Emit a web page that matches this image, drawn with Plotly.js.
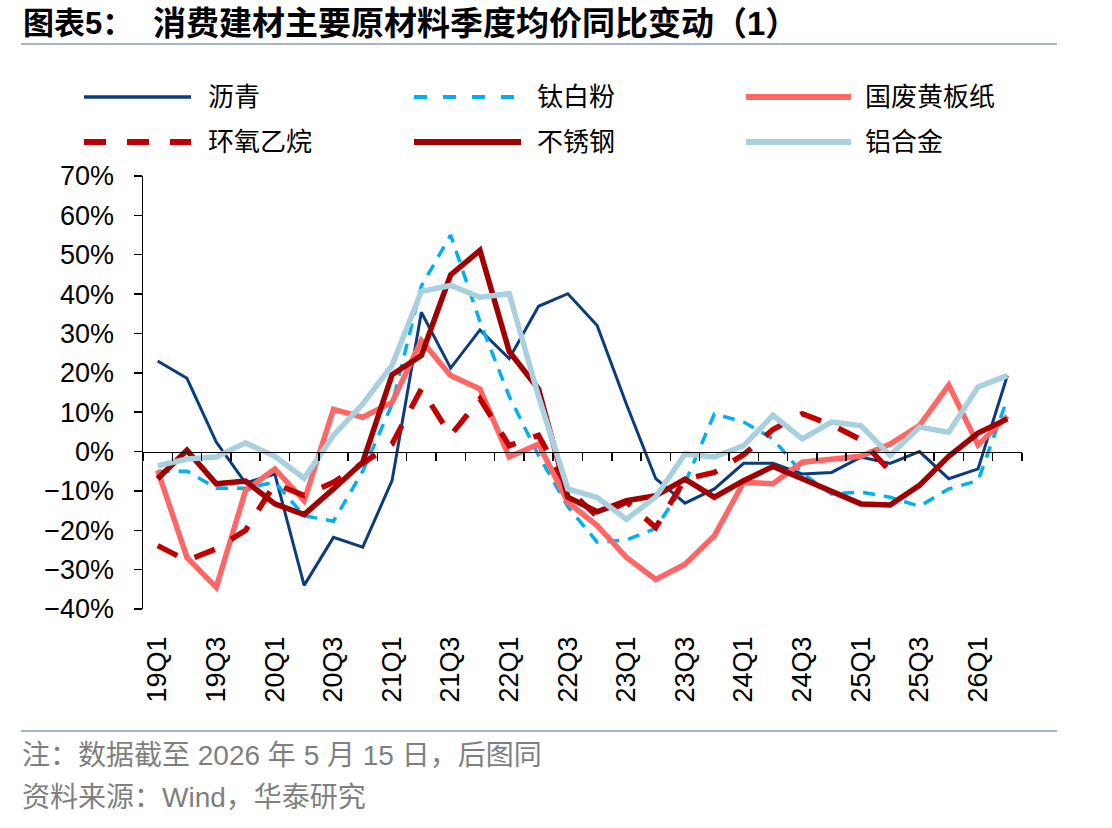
<!DOCTYPE html>
<html>
<head>
<meta charset="utf-8">
<script src="https://cdn.plot.ly/plotly-3.0.1.min.js"></script>
<style>
  html, body { margin: 0; padding: 0; background: #ffffff; }
  #chart { width: 1112px; height: 828px; }
</style>
</head>
<body>
<div id="chart"></div>
<script>
// Quarters on the category axis
const quarters = ['19Q1','19Q2','19Q3','19Q4','20Q1','20Q2','20Q3','20Q4',
                  '21Q1','21Q2','21Q3','21Q4','22Q1','22Q2','22Q3','22Q4',
                  '23Q1','23Q2','23Q3','23Q4','24Q1','24Q2','24Q3','24Q4',
                  '25Q1','25Q2','25Q3','25Q4','26Q1','26Q2'];
// Quarters that carry a tick label
const tickQuarters = ['19Q1','19Q3','20Q1','20Q3','21Q1','21Q3','22Q1','22Q3',
                      '23Q1','23Q3','24Q1','24Q3','25Q1','25Q3','26Q1'];

// Year-on-year change of quarterly average price, %
const asphalt   = [23.0, 18.6, 2.4, -8.0, -5.7, -34.0, -21.8, -24.3, -7.4, 35.4,
                   21.2, 30.9, 23.6, 36.9, 40.1, 32.0, 12.0, -6.9, -13.1, -9.5,
                   -3.0, -3.0, -5.7, -5.3, -1.4, -3.0, 0.0, -6.9, -4.4, 19.3];
const titanium  = [-5.0, -5.0, -9.3, -9.3, -7.8, -16.3, -17.7, -5.0, 12.0, 42.0,
                   55.0, 33.0, 14.0, -1.0, -14.0, -23.0, -22.5, -19.5, -8.0, 9.6,
                   7.5, 3.2, -5.5, -10.8, -10.3, -11.6, -13.9, -9.5, -7.4, 13.4];
const wastePaper = [-4.8, -26.9, -34.5, -9.9, -4.4, -12.5, 10.7, 8.7, 12.5, 28.2,
                    19.3, 15.9, -1.4, 1.9, -12.9, -18.8, -26.9, -32.5, -28.6, -21.4,
                    -7.8, -8.2, -2.7, -1.9, -1.2, 1.9, 6.6, 16.9, 1.7, 9.0];
const epoxy     = [-23.9, -27.7, -24.7, -20.0, -8.2, -11.2, -7.8, -3.1, 1.9, 15.9,
                   4.1, 13.4, 1.5, 4.1, -9.5, -16.5, -12.8, -19.3, -7.0, -5.3,
                   -0.8, 5.6, 9.6, 6.8, 3.0, -5.0, null, null, null, null];
const stainless = [-6.9, 0.3, -8.2, -7.5, -13.3, -16.0, -9.5, -2.7, 19.5, 24.4,
                   44.9, 51.1, 25.4, 15.9, -11.6, -15.3, -12.5, -11.2, -7.0, -11.6,
                   -7.4, -3.8, -6.9, -10.2, -13.3, -13.6, -8.6, -1.2, 4.7, 8.3];
const aluminium = [-3.6, -1.9, -1.4, 2.2, -1.2, -6.8, 4.1, 12.1, 21.9, 40.7,
                   42.2, 39.2, 40.1, 14.0, -9.5, -11.7, -17.2, -11.5, -0.6, -1.4,
                   1.5, 9.2, 3.2, 7.5, 6.6, -1.0, 6.2, 4.9, 16.4, 19.3];

const seriesNames = ['沥青', '钛白粉', '国废黄板纸', '环氧乙烷', '不锈钢', '铝合金'];
const seriesValues = [asphalt, titanium, wastePaper, epoxy, stainless, aluminium];

// Line styles, in drawing order
const styles = [
  { color: '#0B3C7C', width: 3,   dash: 'solid',     keyDash: 'solid' },
  { color: '#00B0F0', width: 3.5, dash: '12px,9px',  keyDash: '13px,16px' },
  { color: '#FF6666', width: 5.5, dash: 'solid',     keyDash: 'solid' },
  { color: '#C00000', width: 5.5, dash: '22px,19px', keyDash: '22px,21px' },
  { color: '#A00000', width: 5.5, dash: 'solid',     keyDash: 'solid' },
  { color: '#A9D0DF', width: 5.5, dash: 'solid',     keyDash: 'solid' }
];

// Page geometry (pixels)
const W = 1112, H = 828;
const M = { l: 143, r: 90, t: 176, b: 219 };
const PW = W - M.l - M.r, PH = H - M.t - M.b;
const px = x => (x - M.l) / PW;          // pixel x -> paper x
const py = y => (M.t + PH - y) / PH;     // pixel y -> paper y

const yMin = -40, yMax = 70;
const latin = 'Liberation Sans, Arial, sans-serif';
const cjk = 'Liberation Sans, Noto Sans CJK SC, sans-serif';

const traces = seriesValues.map((vals, i) => ({
  type: 'scatter',
  mode: 'lines',
  name: seriesNames[i],
  x: quarters,
  y: vals,
  xaxis: 'x',
  yaxis: 'y',
  connectgaps: false,
  line: { color: styles[i].color, width: styles[i].width, dash: styles[i].dash },
  hoverinfo: 'skip',
  showlegend: false
}));

// Empty trace that attaches the labelling axis to the plot
traces.push({
  type: 'scatter', mode: 'lines', x: [], y: [],
  xaxis: 'x2', yaxis: 'y', hoverinfo: 'skip', showlegend: false
});

// Legend keys: three columns, two rows
const keyCols = [
  { x0: 84, x1: 191, tx: 206 },
  { x0: 414, x1: 521, tx: 535 },
  { x0: 746, x1: 851, tx: 863 }
];
const keyRows = [97, 142];

const shapes = [];
const annotations = [];

seriesNames.forEach((name, i) => {
  const c = keyCols[i % 3], r = keyRows[Math.floor(i / 3)];
  shapes.push({
    type: 'line', xref: 'paper', yref: 'paper',
    x0: px(c.x0), x1: px(c.x1), y0: py(r), y1: py(r),
    line: { color: styles[i].color, width: styles[i].width + 0.5, dash: styles[i].keyDash }
  });
  annotations.push({
    xref: 'paper', yref: 'paper', x: px(c.tx), y: py(r),
    xanchor: 'left', yanchor: 'middle', showarrow: false,
    text: name, font: { family: cjk, size: 26, color: '#000000' }
  });
});

// Rules under the title and above the notes
[44, 731].forEach(y => shapes.push({
  type: 'line', xref: 'paper', yref: 'paper',
  x0: px(21), x1: px(1057), y0: py(y), y1: py(y),
  line: { color: '#A3B5C9', width: 2 }
}));

// Title
annotations.push({
  xref: 'paper', yref: 'paper', x: px(21), y: py(23),
  xanchor: 'left', yanchor: 'middle', showarrow: false,
  text: '<b>图表5：</b>', font: { family: cjk, size: 31, color: '#000000' }
});
annotations.push({
  xref: 'paper', yref: 'paper', x: px(151), y: py(23),
  xanchor: 'left', yanchor: 'middle', showarrow: false,
  text: '<b>消费建材主要原材料季度均价同比变动（1）</b>',
  font: { family: cjk, size: 33, color: '#000000' }
});

// Notes
annotations.push({
  xref: 'paper', yref: 'paper', x: px(20), y: py(755),
  xanchor: 'left', yanchor: 'middle', showarrow: false,
  text: '注：数据截至 2026 年 5 月 15 日，后图同',
  font: { family: cjk, size: 28, color: '#7F7F7F' }
});
annotations.push({
  xref: 'paper', yref: 'paper', x: px(20), y: py(797),
  xanchor: 'left', yanchor: 'middle', showarrow: false,
  text: '资料来源：Wind，华泰研究',
  font: { family: cjk, size: 28, color: '#7F7F7F' }
});

const layout = {
  width: W, height: H,
  margin: M,
  paper_bgcolor: '#ffffff',
  plot_bgcolor: 'rgba(0,0,0,0)',
  showlegend: false,
  // category axis drawn along the 0% level, ticks on the boundaries
  xaxis: {
    type: 'category',
    categoryarray: quarters,
    categoryorder: 'array',
    range: [-0.5, quarters.length - 0.5],
    anchor: 'free',
    position: (0 - yMin) / (yMax - yMin),
    showline: true, linecolor: '#000000', linewidth: 1.5,
    ticks: 'outside', tickson: 'boundaries', ticklen: 8, tickwidth: 1.5, tickcolor: '#000000',
    showticklabels: false,
    showgrid: false, zeroline: false, fixedrange: true
  },
  // tick labels along the bottom of the plot
  xaxis2: {
    overlaying: 'x',
    anchor: 'y',
    side: 'bottom',
    type: 'linear',
    range: [-0.5, quarters.length - 0.5],
    tickmode: 'array',
    tickvals: tickQuarters.map(q => quarters.indexOf(q)),
    ticktext: tickQuarters,
    tickangle: -90,
    ticks: '',
    ticklabelstandoff: 21,
    tickfont: { family: latin, size: 27, color: '#000000' },
    showline: false, showgrid: false, zeroline: false, fixedrange: true
  },
  yaxis: {
    range: [yMin, yMax],
    tick0: 0, dtick: 10,
    ticksuffix: '%',
    showline: true, linecolor: '#000000', linewidth: 1.5,
    ticks: 'outside', ticklen: 8, tickwidth: 1.5, tickcolor: '#000000',
    ticklabelstandoff: 14,
    tickfont: { family: latin, size: 27, color: '#000000' },
    showgrid: false, zeroline: false, fixedrange: true
  },
  shapes: shapes,
  annotations: annotations
};

Plotly.newPlot('chart', traces, layout, { staticPlot: true, displayModeBar: false });
</script>
</body>
</html>
